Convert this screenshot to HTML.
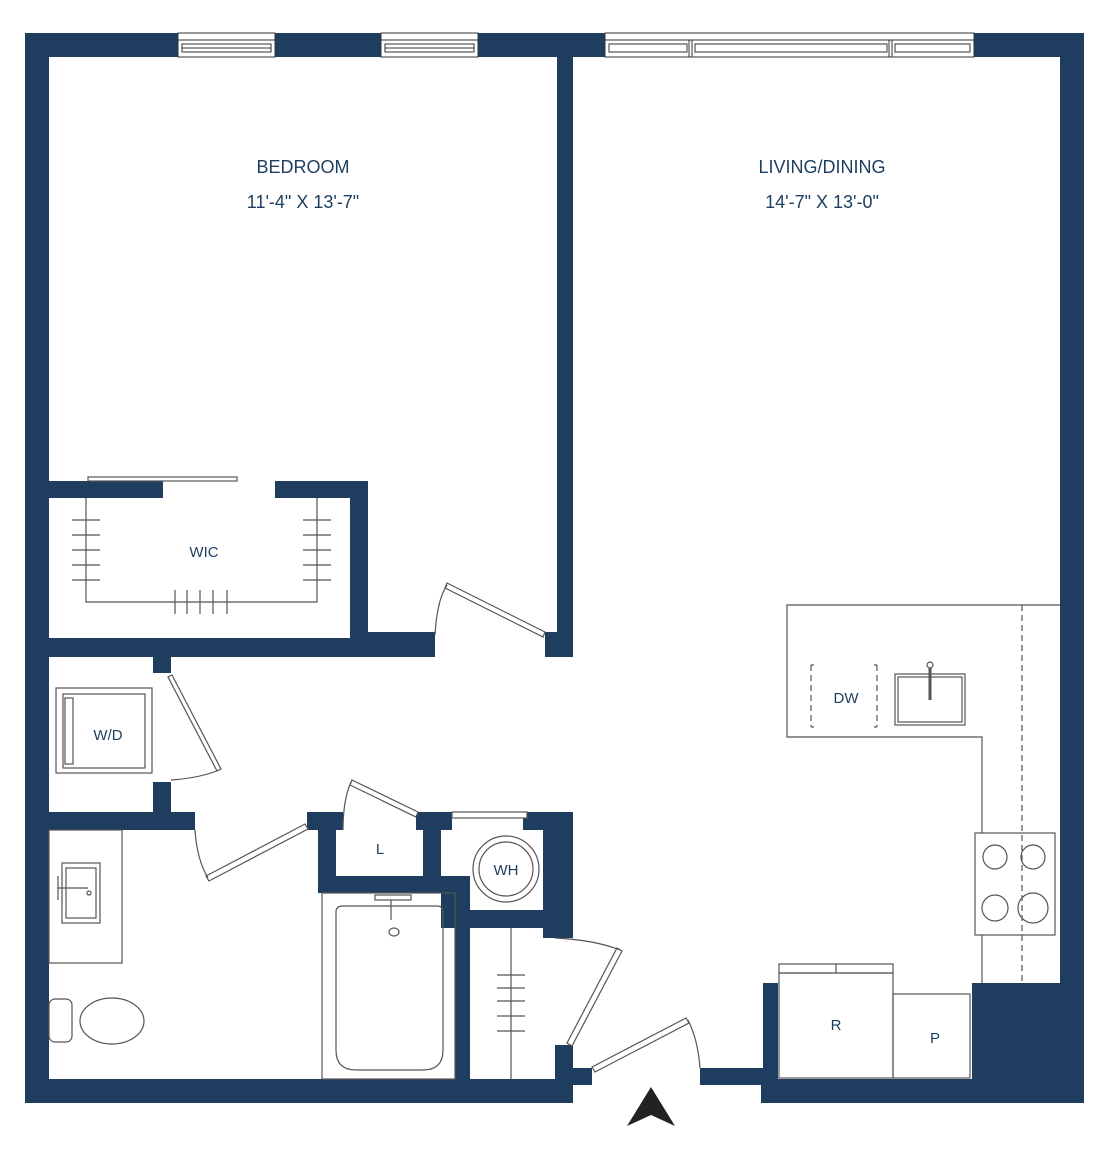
<!DOCTYPE html>
<html><head><style>html,body{margin:0;padding:0;background:#fff}svg{display:block}</style></head>
<body>
<svg width="1109" height="1159" viewBox="0 0 1109 1159" xmlns="http://www.w3.org/2000/svg">
<g fill="#1e3d5f">
<!-- outer walls -->
<rect x="25" y="33" width="1059" height="24"/>
<rect x="25" y="33" width="24" height="1070"/>
<rect x="1060" y="33" width="24" height="1070"/>
<rect x="25" y="1079" width="548" height="24"/>
<rect x="761" y="1079" width="323" height="24"/>
<rect x="972" y="983" width="112" height="120"/>
<rect x="763" y="983" width="15" height="100"/>
<rect x="700" y="1068" width="70" height="17"/>
<rect x="555" y="1045" width="18" height="40"/>
<rect x="573" y="1068" width="19" height="17"/>
<!-- bedroom/living wall -->
<rect x="557" y="57" width="16" height="600"/>
<rect x="545" y="632" width="28" height="25"/>
<!-- WIC -->
<rect x="49" y="481" width="114" height="17"/>
<rect x="275" y="481" width="93" height="17"/>
<rect x="350" y="481" width="18" height="176"/>
<rect x="49" y="638" width="386" height="19"/>
<rect x="368" y="632" width="67" height="25"/>
<!-- WD closet -->
<rect x="153" y="657" width="18" height="16"/>
<rect x="153" y="782" width="18" height="48"/>
<rect x="49" y="812" width="146" height="18"/>
<!-- L / WH block -->
<rect x="307" y="812" width="36" height="18"/>
<rect x="318" y="812" width="18" height="81"/>
<rect x="318" y="876" width="152" height="17"/>
<rect x="416" y="812" width="36" height="18"/>
<rect x="423" y="812" width="18" height="81"/>
<rect x="441" y="876" width="14" height="52"/>
<rect x="455" y="876" width="15" height="203"/>
<rect x="523" y="812" width="50" height="18"/>
<rect x="543" y="812" width="30" height="126"/>
<rect x="455" y="910" width="118" height="18"/>
</g>
<!-- windows -->
<g fill="#fff" stroke="#333" stroke-width="1">
<rect x="178" y="33" width="97" height="24"/>
<rect x="381" y="33" width="97" height="24"/>
<rect x="605" y="33" width="369" height="24"/>
</g>
<g stroke="#333" stroke-width="1" fill="none">
<line x1="178" y1="40" x2="275" y2="40"/><rect x="182" y="44" width="89" height="8"/><line x1="182" y1="48" x2="271" y2="48"/>
<line x1="381" y1="40" x2="478" y2="40"/><rect x="385" y="44" width="89" height="8"/><line x1="385" y1="48" x2="474" y2="48"/>
<line x1="605" y1="40" x2="974" y2="40"/>
<rect x="609" y="44" width="78" height="8"/><rect x="695" y="44" width="192" height="8"/><rect x="895" y="44" width="75" height="8"/>
<line x1="689" y1="40" x2="689" y2="57"/><line x1="692" y1="40" x2="692" y2="57"/><line x1="889" y1="40" x2="889" y2="57"/><line x1="892" y1="40" x2="892" y2="57"/>
</g>
<g fill="none" stroke="#555" stroke-width="1.2">
<!-- WIC -->
<rect x="88" y="477" width="149" height="4" fill="#fff"/>
<polyline points="86,498 86,602 317,602 317,498"/>
<path d="M72 520H100M72 535H100M72 550H100M72 565H100M72 580H100M303 520H331M303 535H331M303 550H331M303 565H331M303 580H331M175 590V614M187 590V614M200 590V614M213 590V614M227 590V614"/>
<!-- bedroom door -->
<polygon points="447,583 545,632 543,637 445,588" fill="#fff"/>
<path d="M435 635 Q437 600 447 585"/>
<!-- WD -->
<rect x="56" y="688" width="96" height="85"/><rect x="63" y="694" width="82" height="74"/><rect x="65" y="698" width="8" height="66"/>
<polygon points="168,677 172,675 221,769 217,771" fill="#fff"/>
<path d="M171 780 Q200 778 219 770"/>
<!-- bath door -->
<polygon points="206,876 305,824 308,829 209,881" fill="#fff"/>
<path d="M195 830 Q197 860 208 878"/>
<!-- L door -->
<polygon points="352,780 418,812 416,817 350,785" fill="#fff"/>
<path d="M343 830 Q343 800 351 782"/>
<!-- WH -->
<rect x="452" y="812" width="75" height="6" fill="#fff"/>
<circle cx="506" cy="869" r="33"/><circle cx="506" cy="869" r="27"/>
<!-- bath -->
<rect x="49" y="830" width="73" height="133"/>
<rect x="62" y="863" width="38" height="60"/><rect x="66" y="868" width="30" height="50"/>
<path d="M58 888H88M58 876V900"/><circle cx="89" cy="893" r="2"/>
<rect x="49" y="999" width="23" height="43" rx="6"/>
<ellipse cx="112" cy="1021" rx="32" ry="23"/>
<rect x="322" y="893" width="133" height="186"/>
<path d="M343 906H437Q443 906 443 912V1050Q443 1070 423 1070H356Q336 1070 336 1050V912Q336 906 343 906Z"/>
<rect x="375" y="895" width="36" height="5"/><path d="M391 900V920"/><ellipse cx="394" cy="932" rx="5" ry="4"/>
<!-- linen -->
<path d="M511 928V1079M497 975H525M497 988H525M497 1001H525M497 1016H525M497 1031H525"/>
<polygon points="617,948 622,951 572,1046 567,1043" fill="#fff"/>
<path d="M555 938 Q595 940 620 950"/>
<!-- entry door -->
<polygon points="592,1067 686,1018 689,1023 595,1072" fill="#fff"/>
<path d="M688 1020 Q698 1040 700 1068"/>
<!-- kitchen -->
<polyline points="1060,605 787,605 787,737 982,737 982,833"/>
<path d="M982 935V983"/>
<path d="M1022 605V983" stroke-dasharray="6,4"/>
<rect x="975" y="833" width="80" height="102"/>
<circle cx="995" cy="857" r="12"/><circle cx="1033" cy="857" r="12"/><circle cx="995" cy="908" r="13"/><circle cx="1033" cy="908" r="15"/>
<path d="M811 665V727M877 665V727M811 665H814M874 665H877M811 727H814M874 727H877" stroke-dasharray="6,4"/>
<rect x="895" y="674" width="70" height="51"/><rect x="898" y="677" width="64" height="45"/>
<path d="M930 668V700" stroke-width="3"/><circle cx="930" cy="665" r="3" fill="#fff"/>
<rect x="779" y="964" width="114" height="9"/><path d="M836 964V973"/>
<rect x="779" y="973" width="114" height="105"/>
<rect x="893" y="994" width="77" height="84"/>
</g>
<polygon points="651,1087 627,1126 651,1115 675,1126" fill="#222"/>
<g fill="#1e3d5f" font-family="Liberation Sans, sans-serif" text-anchor="middle">
<text x="303" y="173" font-size="18">BEDROOM</text>
<text x="303" y="208" font-size="18">11'-4" X 13'-7"</text>
<text x="822" y="173" font-size="18">LIVING/DINING</text>
<text x="822" y="208" font-size="18">14'-7" X 13'-0"</text>
<text x="204" y="557" font-size="15">WIC</text>
<text x="108" y="740" font-size="15">W/D</text>
<text x="380" y="854" font-size="15">L</text>
<text x="506" y="875" font-size="15">WH</text>
<text x="846" y="703" font-size="15">DW</text>
<text x="836" y="1030" font-size="15">R</text>
<text x="935" y="1043" font-size="15">P</text>
</g>
</svg>
</body></html>
